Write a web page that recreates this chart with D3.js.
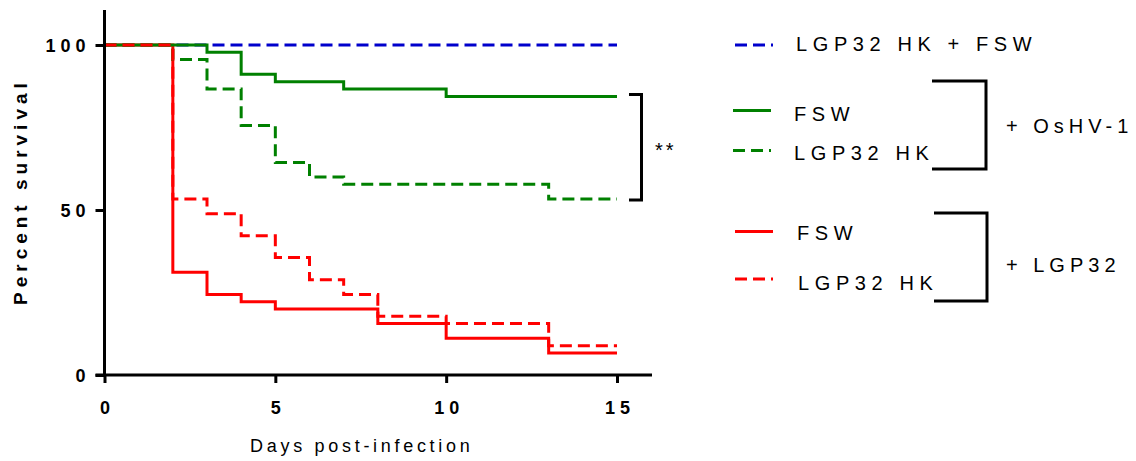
<!DOCTYPE html>
<html>
<head>
<meta charset="utf-8">
<script src="https://cdn.jsdelivr.net/npm/d3@7"></script>
<style>
  body { margin: 0; background: #fff; }
  svg { display: block; font-family: "Liberation Sans", Arial, sans-serif; }
</style>
</head>
<body>
<svg id="chart" width="1136" height="461"></svg>
<script>
// ---- Data ----
const xTicks = [0, 5, 10, 15];
const yTicks = [0, 50, 100];
const xLabel = "Days post-infection";
const yLabel = "Percent survival";

const hkFswDays = [0, 15];
const hkFswSurv = [100, 100];

const oshvFswDays = [0, 3, 4, 5, 7, 10, 15];
const oshvFswSurv = [100, 97.8, 91.1, 88.9, 86.7, 84.4, 84.4];

const oshvHkDays = [0, 2, 3, 4, 5, 6, 7, 13, 15];
const oshvHkSurv = [100, 95.6, 86.7, 75.6, 64.4, 60.0, 57.8, 53.3, 53.3];

const lgpFswDays = [0, 2, 3, 4, 5, 8, 10, 13, 15];
const lgpFswSurv = [100, 31.1, 24.4, 22.2, 20.0, 15.6, 11.1, 6.7, 6.7];

const lgpHkDays = [0, 2, 3, 4, 5, 6, 7, 8, 10, 13, 15];
const lgpHkSurv = [100, 53.3, 48.9, 42.2, 35.6, 28.9, 24.4, 17.8, 15.6, 8.9, 8.9];

const legendLabels = ["LGP32 HK + FSW", "FSW", "LGP32 HK", "FSW", "LGP32 HK"];
const groupLabels = ["+ OsHV-1", "+ LGP32"];
const sigLabel = "**";

// ---- Styles ----
const BLUE = "#0000CC", GREEN = "#008000", RED = "#FF0000";
const DASH = "12,6";
const series = [
  { days: hkFswDays, surv: hkFswSurv, color: BLUE, dash: DASH },
  { days: lgpFswDays, surv: lgpFswSurv, color: RED, dash: null },
  { days: oshvFswDays, surv: oshvFswSurv, color: GREEN, dash: null },
  { days: oshvHkDays, surv: oshvHkSurv, color: GREEN, dash: DASH },
  { days: lgpHkDays, surv: lgpHkSurv, color: RED, dash: DASH }
];

const svg = d3.select("#chart");
const x = d3.scaleLinear().domain([0, 15]).range([104.5, 617]);
const y = d3.scaleLinear().domain([0, 100]).range([375, 45]);

// ---- Curves ----
const line = d3.line().x(d => x(d[0])).y(d => y(d[1])).curve(d3.curveStepAfter);
series.forEach(s => {
  svg.append("path")
    .datum(s.days.map((d, i) => [d, s.surv[i]]))
    .attr("d", line)
    .attr("fill", "none")
    .attr("stroke", s.color)
    .attr("stroke-width", 3)
    .attr("stroke-dasharray", s.dash);
});

// ---- Axes ----
const axisColor = "#000";
const yAxis = svg.append("g").attr("transform", `translate(${x(0)},0)`)
  .call(d3.axisLeft(y).tickValues(yTicks).tickSize(9).tickSizeOuter(0).tickPadding(9));
yAxis.select(".domain").remove();
yAxis.append("line").attr("x1", 0).attr("x2", 0).attr("y1", 10).attr("y2", y(0) + 1.5)
  .attr("stroke", axisColor).attr("stroke-width", 3);
yAxis.selectAll(".tick line").attr("stroke", axisColor).attr("stroke-width", 3);
yAxis.selectAll(".tick text")
  .attr("font-size", 18).attr("font-weight", "bold").attr("fill", "#000")
  .style("letter-spacing", "5px").attr("dx", "4px").attr("dy", "0.36em");

const xAxis = svg.append("g").attr("transform", `translate(0,${y(0)})`)
  .call(d3.axisBottom(x).tickValues(xTicks).tickSize(8).tickSizeOuter(0).tickPadding(18));
xAxis.select(".domain").remove();
xAxis.append("line").attr("x1", x(0) - 9).attr("x2", 652).attr("y1", 0).attr("y2", 0)
  .attr("stroke", axisColor).attr("stroke-width", 3);
xAxis.selectAll(".tick line").attr("stroke", axisColor).attr("stroke-width", 3);
xAxis.selectAll(".tick text")
  .attr("font-size", 18).attr("font-weight", "bold").attr("fill", "#000")
  .style("letter-spacing", "5px").attr("dx", "2.5px");

// Axis titles
svg.append("text")
  .attr("transform", `translate(${(x(0) + x(15)) / 2 + 1},452)`)
  .attr("text-anchor", "middle")
  .attr("font-size", 18)
  .style("letter-spacing", "3.7px")
  .text(xLabel);

svg.append("text")
  .attr("transform", "translate(27,305) rotate(-90)")
  .attr("text-anchor", "start")
  .attr("font-size", 19).attr("font-weight", "bold")
  .style("letter-spacing", "5px")
  .text(yLabel);

// ---- Significance bracket ----
svg.append("path")
  .attr("d", `M${x(15) + 12},${y(oshvFswSurv[oshvFswSurv.length - 1]) - 2} H641.5 V${y(oshvHkSurv[oshvHkSurv.length - 1]) + 1} H${x(15) + 12}`)
  .attr("fill", "none").attr("stroke", "#000").attr("stroke-width", 3);
svg.append("text").attr("x", 655).attr("y", 157)
  .attr("font-size", 20).style("letter-spacing", "3px").text(sigLabel);

// ---- Legend ----
const legendRows = [
  { color: BLUE, dash: DASH, ly: 45, x1: 735, tx: 796, ty: 44, label: legendLabels[0] },
  { color: GREEN, dash: null, ly: 110.5, x1: 733, tx: 794, ty: 114, label: legendLabels[1] },
  { color: GREEN, dash: DASH, ly: 150.5, x1: 733, tx: 794, ty: 153, label: legendLabels[2] },
  { color: RED, dash: null, ly: 231.5, x1: 735, tx: 797, ty: 233, label: legendLabels[3] },
  { color: RED, dash: DASH, ly: 279, x1: 735, tx: 798, ty: 282.5, label: legendLabels[4] }
];
legendRows.forEach(r => {
  svg.append("line").attr("x1", r.x1).attr("x2", r.x1 + 38).attr("y1", r.ly).attr("y2", r.ly)
    .attr("stroke", r.color).attr("stroke-width", 3).attr("stroke-dasharray", r.dash);
  svg.append("text").attr("x", r.tx).attr("y", r.ty).attr("dy", "0.35em")
    .attr("font-size", 20).style("letter-spacing", "5.6px").attr("fill", "#000").text(r.label);
});

const brackets = [
  { top: 81, bottom: 169, x1: 932, x2: 986, ty: 126, label: groupLabels[0] },
  { top: 213, bottom: 301, x1: 934, x2: 987, ty: 265, label: groupLabels[1] }
];
brackets.forEach(b => {
  svg.append("path").attr("d", `M${b.x1},${b.top} H${b.x2} V${b.bottom} H${b.x1}`)
    .attr("fill", "none").attr("stroke", "#000").attr("stroke-width", 3);
  svg.append("text").attr("x", 1006).attr("y", b.ty).attr("dy", "0.35em")
    .attr("font-size", 20).style("letter-spacing", "5px").attr("fill", "#000").text(b.label);
});
</script>
</body>
</html>
